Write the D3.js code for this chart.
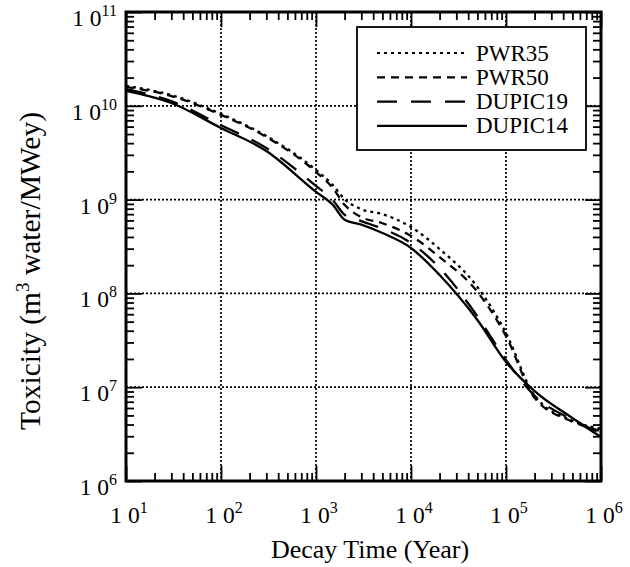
<!DOCTYPE html>
<html><head><meta charset="utf-8">
<script src="https://cdn.jsdelivr.net/npm/d3@7"></script>
<style>
html,body{margin:0;padding:0;background:#fff;}
svg{display:block;font-family:"Liberation Serif","Times New Roman",serif;}
</style></head>
<body><svg id="c" width="630" height="567"></svg>
<script>
const times   = [10, 30, 100, 300, 1000, 1500, 2000, 3000, 5000, 1e4, 2e4, 5e4, 1e5, 2e5, 5e5, 1e6];
const pwr35   = [1.63e10, 1.30e10, 8.2e9, 4.76e9, 2.07e9, 1.43e9, 1.01e9, 7.9e8, 7.0e8, 5.1e8, 2.97e8, 1.17e8, 3.78e7, 8.1e6, 4.4e6, 3.6e6];
const pwr50   = [1.59e10, 1.27e10, 8.0e9, 4.65e9, 1.97e9, 1.33e9, 8.8e8, 6.5e8, 5.6e8, 4.1e8, 2.44e8, 1.04e8, 3.5e7, 7.7e6, 4.3e6, 3.4e6];
const dupic19 = [1.51e10, 1.12e10, 6.2e9, 3.55e9, 1.40e9, 9.9e8, 6.9e8, 5.9e8, 4.9e8, 3.45e8, 1.87e8, 5.7e7, 1.95e7, 8.1e6, 4.5e6, 3.25e6];
const dupic14 = [1.44e10, 1.07e10, 5.8e9, 3.3e9, 1.21e9, 8.8e8, 6.1e8, 5.4e8, 4.4e8, 3.05e8, 1.57e8, 5.2e7, 1.86e7, 9.1e6, 4.7e6, 2.94e6];
const seriesNames = ["PWR35", "PWR50", "DUPIC19", "DUPIC14"];
const xExponents = [1, 2, 3, 4, 5, 6];
const yExponents = [6, 7, 8, 9, 10, 11];
const xTitle = "Decay Time (Year)";

const svg = d3.select("#c");
const L = 126, R = 601, T = 12, B = 481;
const x = d3.scaleLog().domain([10, 1e6]).range([L, R]);
const y = d3.scaleLog().domain([1e6, 1e11]).range([B, T]);

const series = [
  {name: seriesNames[0], vals: pwr35, dash: "3,4"},
  {name: seriesNames[1], vals: pwr50, dash: "8,6"},
  {name: seriesNames[2], vals: dupic19, dash: "20,14"},
  {name: seriesNames[3], vals: dupic14, dash: null}
];

// grid
const xMaj = xExponents.map(e => Math.pow(10, e));
const yMaj = yExponents.map(e => Math.pow(10, e));
const grid = svg.append("g").attr("stroke", "#000").attr("stroke-width", 1.7).attr("stroke-dasharray", "2,2");
grid.selectAll(".gx").data(xMaj.slice(1, -1)).join("line")
  .attr("x1", d => x(d)).attr("x2", d => x(d)).attr("y1", T).attr("y2", B);
grid.selectAll(".gy").data(yMaj.slice(1, -1)).join("line")
  .attr("y1", d => y(d)).attr("y2", d => y(d)).attr("x1", L).attr("x2", R);

// minor tick values
const xMin = [], yMin = [];
for (let e = 1; e < 6; e++) for (let k = 2; k <= 9; k++) xMin.push(k * Math.pow(10, e));
for (let e = 6; e < 11; e++) for (let k = 2; k <= 9; k++) yMin.push(k * Math.pow(10, e));

function styleAxis(g) {
  g.select(".domain").remove();
  g.selectAll("line").attr("stroke", "#000").attr("stroke-width", 1.8);
  g.selectAll("text").remove();
}
// bottom
svg.append("g").attr("transform", `translate(0,${B})`).call(d3.axisBottom(x).tickValues(xMaj).tickSize(-15).tickFormat("")).call(styleAxis);
svg.append("g").attr("transform", `translate(0,${B})`).call(d3.axisBottom(x).tickValues(xMin).tickSize(-8).tickFormat("")).call(styleAxis);
// top
svg.append("g").attr("transform", `translate(0,${T})`).call(d3.axisTop(x).tickValues(xMaj).tickSize(-15).tickFormat("")).call(styleAxis);
svg.append("g").attr("transform", `translate(0,${T})`).call(d3.axisTop(x).tickValues(xMin).tickSize(-8).tickFormat("")).call(styleAxis);
// left
svg.append("g").attr("transform", `translate(${L},0)`).call(d3.axisLeft(y).tickValues(yMaj).tickSize(-16).tickFormat("")).call(styleAxis);
svg.append("g").attr("transform", `translate(${L},0)`).call(d3.axisLeft(y).tickValues(yMin).tickSize(-8).tickFormat("")).call(styleAxis);
// right
svg.append("g").attr("transform", `translate(${R},0)`).call(d3.axisRight(y).tickValues(yMaj).tickSize(-16).tickFormat("")).call(styleAxis);
svg.append("g").attr("transform", `translate(${R},0)`).call(d3.axisRight(y).tickValues(yMin).tickSize(-8).tickFormat("")).call(styleAxis);

// frame
svg.append("rect").attr("x", L).attr("y", T).attr("width", R - L).attr("height", B - T)
  .attr("fill", "none").attr("stroke", "#000").attr("stroke-width", 3);

// curves
const line = d3.line().x(d => x(d[0])).y(d => y(d[1])).curve(d3.curveMonotoneX);
svg.append("g").selectAll("path").data(series).join("path")
  .attr("d", s => line(times.map((t, i) => [t, s.vals[i]])))
  .attr("fill", "none").attr("stroke", "#000").attr("stroke-width", 2.3)
  .attr("stroke-dasharray", s => s.dash);

// legend
const lg = svg.append("g");
lg.append("rect").attr("x", 357).attr("y", 27).attr("width", 229).attr("height", 123)
  .attr("fill", "#fff").attr("stroke", "#000").attr("stroke-width", 1.8);
series.forEach((s, i) => {
  const yy = 53 + i * 24.3;
  lg.append("line").attr("x1", 377).attr("x2", 467).attr("y1", yy).attr("y2", yy)
    .attr("stroke", "#000").attr("stroke-width", 2.2).attr("stroke-dasharray", s.dash);
  lg.append("text").attr("x", 476).attr("y", yy + 7.5).attr("font-size", 23).text(s.name);
});

// tick labels
function powLabel(g, e, px, py, anchor) {
  const t = g.append("text").attr("x", px).attr("y", py).attr("text-anchor", anchor).attr("font-size", 23.5);
  t.append("tspan").text("1 0");
  t.append("tspan").attr("dy", -10).attr("font-size", 16).text(e);
}
const lab = svg.append("g");
xExponents.forEach(e => powLabel(lab, e, x(Math.pow(10, e)) + 3, 523, "middle"));
yExponents.forEach(e => powLabel(lab, e, 117, y(Math.pow(10, e)) + 14, "end"));

// axis titles
svg.append("text").attr("x", 370).attr("y", 558).attr("text-anchor", "middle").attr("font-size", 26).text(xTitle);
const yt = svg.append("text").attr("transform", "translate(40,271) rotate(-90)").attr("text-anchor", "middle").attr("font-size", 29.5);
yt.append("tspan").text("Toxicity (m");
yt.append("tspan").attr("dy", -11).attr("font-size", 19).text("3");
yt.append("tspan").attr("dy", 11).text(" water/MWey)");
</script></body></html>
